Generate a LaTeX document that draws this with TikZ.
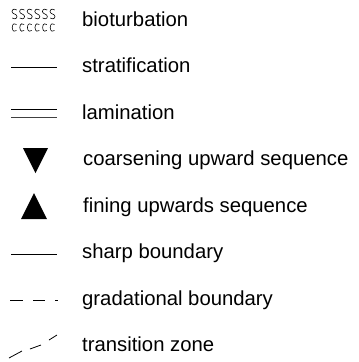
\documentclass[tikz,border=0pt]{standalone}
\usepackage{fontspec}
\setmainfont{Liberation Sans}
\usetikzlibrary{positioning}

\tikzset{
  legendtext/.style={anchor=base west,inner sep=0pt,font=\fontsize{20.3}{24}\selectfont},
  keyline/.style={line width=1pt,black}
}

\begin{document}
\begin{tikzpicture}[x=1pt,y=-1pt]
\useasboundingbox (0,0) rectangle (359,362);
% symbols
\foreach \i in {0,...,5} {
  \pgfmathsetmacro{\xc}{14.5+7.6*\i}
  \draw[line width=0.6pt] (\xc+2.3,10) .. controls (\xc+1.5,8.6) and (\xc-2.5,8.6) .. (\xc-2.5,11.5)
    .. controls (\xc-2.5,14) and (\xc+2.5,14) .. (\xc+2.5,16.5)
    .. controls (\xc+2.5,19.4) and (\xc-1.5,19.4) .. (\xc-2.3,18);
  \draw[line width=0.6pt] (\xc+2,24.5) .. controls (\xc+1,23) and (\xc-2.3,23.2) .. (\xc-2.3,27.5)
    .. controls (\xc-2.3,31.8) and (\xc+1,32) .. (\xc+2,30.5);
}
\draw[keyline,line width=1.3pt] (11,67.5) -- (57,67.5);
\draw[keyline] (11,109) -- (57,109);
\draw[keyline,black!75] (11,117) -- (57,117);
\fill (23,148) -- (48,148) -- (35.5,173) -- cycle;
\fill (21,219) -- (47,219) -- (34,193) -- cycle;
\draw[keyline,line width=0.9pt] (11,254) -- (57,254);
\draw[keyline] (10,300) -- (23,300);
\draw[keyline] (33,300) -- (45,300);
\draw[keyline] (55,300) -- (58,300);
\draw[keyline,line width=0.8pt] (9,358) -- (22,351);
\draw[keyline,line width=0.8pt] (30,349) -- (41,345);
\draw[keyline,line width=0.8pt] (49,340) -- (57,335);
% labels
\node[legendtext] (bio) at (82,26) {bioturbation};
\node[legendtext] (strat) at (82,72.5) {stratification};
\node[legendtext] (lam) at (82,119) {lamination};
\node[legendtext] (coarse) at (83,165.5) {coarsening upward sequence};
\node[legendtext] (fine) at (83,212) {fining upwards sequence};
\node[legendtext] (sharp) at (82,258.5) {sharp boundary};
\node[legendtext] (grad) at (82,305) {gradational boundary};
\node[legendtext] (trans) at (82,351.5) {transition zone};
\end{tikzpicture}
\end{document}
